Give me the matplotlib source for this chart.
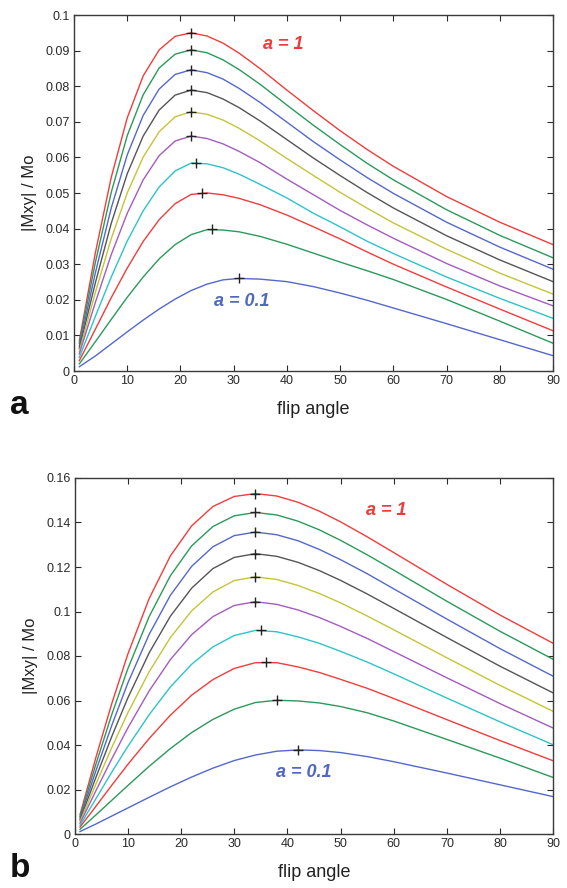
import matplotlib
matplotlib.use("Agg")
import matplotlib.pyplot as plt

plt.rcParams['font.family'] = ['Liberation Sans', 'DejaVu Sans']

# ---------------- data ----------------
a_angles = [1, 4, 7, 10, 13, 16, 19, 22, 25, 28, 31, 35, 40, 45, 50, 55, 60, 70, 80, 90]

# panel a, curves from a = 1 (top) to a = 0.1 (bottom)
a_red1 = [.0085, .0331, .0544, .0711, .0829, .0902, .0940, .0950, .0941, .0921, .0893, .0849, .0789, .0731, .0675, .0623, .0575, .0490, .0418, .0355]
a_green1 = [.0078, .0304, .0502, .0661, .0776, .0851, .0890, .0902, .0894, .0874, .0847, .0805, .0747, .0690, .0636, .0584, .0537, .0453, .0381, .0318]
a_blue1 = [.0070, .0275, .0458, .0607, .0718, .0792, .0833, .0846, .0838, .0820, .0794, .0754, .0699, .0644, .0593, .0544, .0499, .0418, .0348, .0286]
a_grey = [.0063, .0247, .0415, .0554, .0660, .0733, .0775, .0789, .0782, .0764, .0740, .0702, .0650, .0598, .0549, .0502, .0458, .0380, .0312, .0251]
a_yellow = [.0055, .0220, .0372, .0500, .0601, .0672, .0714, .0728, .0721, .0705, .0682, .0646, .0597, .0549, .0502, .0458, .0416, .0342, .0275, .0216]
a_purple = [.0048, .0192, .0327, .0443, .0537, .0605, .0646, .0660, .0653, .0638, .0617, .0585, .0539, .0495, .0451, .0411, .0373, .0302, .0239, .0183]
a_cyan = [.0038, .0153, .0264, .0365, .0450, .0517, .0562, .0584, .0582, .0571, .0553, .0524, .0486, .0443, .0405, .0365, .0330, .0264, .0204, .0148]
a_red2 = [.0029, .0117, .0206, .0289, .0364, .0425, .0470, .0496, .0500, .0495, .0485, .0467, .0438, .0405, .0371, .0335, .0300, .0236, .0174, .0113]
a_green2 = [.0020, .0082, .0145, .0207, .0264, .0315, .0355, .0383, .0397, .0396, .0391, .0378, .0356, .0331, .0306, .0282, .0257, .0201, .0140, .0078]
a_blue2 = [.0012, .0042, .0076, .0110, .0143, .0174, .0202, .0226, .0244, .0256, .0260, .0258, .0251, .0237, .0219, .0199, .0177, .0133, .0088, .0043]
a_curves = [a_red1, a_green1, a_blue1, a_grey, a_yellow, a_purple, a_cyan, a_red2, a_green2, a_blue2]

a_peak_angle = [22, 22, 22, 22, 22, 22, 23, 24, 26, 31]
a_peak_value = [0.0950, 0.0902, 0.0846, 0.0789, 0.0728, 0.0660, 0.0585, 0.0501, 0.0398, 0.0260]

b_angles = [1, 4, 7, 10, 14, 18, 22, 26, 30, 34, 38, 42, 46, 50, 55, 60, 70, 80, 90]

b_red1 = [.0087, .0345, .0588, .0809, .1058, .1250, .1385, .1472, .1517, .1530, .1519, .1491, .1451, .1403, .1336, .1265, .1122, .0984, .0857]
b_green1 = [.0079, .0315, .0539, .0743, .0977, .1161, .1295, .1382, .1430, .1445, .1434, .1406, .1367, .1320, .1255, .1186, .1046, .0911, .0785]
b_blue1 = [.0072, .0285, .0490, .0679, .0897, .1073, .1203, .1291, .1341, .1357, .1345, .1318, .1279, .1233, .1170, .1102, .0966, .0833, .0709]
b_grey = [.0064, .0255, .0440, .0612, .0814, .0979, .1105, .1193, .1243, .1260, .1248, .1221, .1184, .1140, .1079, .1014, .0883, .0754, .0634]
b_yellow = [.0056, .0225, .0390, .0545, .0729, .0883, .1003, .1088, .1139, .1156, .1144, .1117, .1081, .1039, .0980, .0918, .0792, .0668, .0551]
b_purple = [.0048, .0195, .0339, .0477, .0643, .0784, .0896, .0977, .1027, .1044, .1032, .1007, .0973, .0933, .0879, .0820, .0702, .0586, .0476]
b_cyan = [.0039, .0159, .0279, .0394, .0536, .0661, .0763, .0841, .0892, .0915, .0909, .0886, .0857, .0821, .0773, .0720, .0611, .0504, .0401]
b_red2 = [.0031, .0125, .0220, .0313, .0429, .0534, .0624, .0694, .0744, .0770, .0770, .0751, .0726, .0695, .0655, .0609, .0514, .0420, .0329]
b_green2 = [.0021, .0086, .0152, .0218, .0304, .0384, .0456, .0515, .0561, .0591, .0601, .0598, .0589, .0573, .0545, .0508, .0425, .0341, .0254]
b_blue2 = [.0011, .0045, .0081, .0117, .0165, .0212, .0256, .0296, .0330, .0355, .0372, .0378, .0375, .0366, .0348, .0325, .0274, .0221, .0168]
b_curves = [b_red1, b_green1, b_blue1, b_grey, b_yellow, b_purple, b_cyan, b_red2, b_green2, b_blue2]

b_peak_angle = [34, 34, 34, 34, 34, 34, 35, 36, 38, 42]
b_peak_value = [0.1530, 0.1445, 0.1357, 0.1260, 0.1156, 0.1044, 0.0916, 0.0773, 0.0601, 0.0378]

colors = ['#f23c3c', '#2a9a5a', '#5468cc', '#555555', '#c4c43a',
          '#a35cbf', '#2cc4c8', '#f23c3c', '#2a9a5a', '#5468cc']

a_yticks = [0, 0.01, 0.02, 0.03, 0.04, 0.05, 0.06, 0.07, 0.08, 0.09, 0.1]
a_ylabels = ['0', '0.01', '0.02', '0.03', '0.04', '0.05', '0.06', '0.07', '0.08', '0.09', '0.1']
b_yticks = [0, 0.02, 0.04, 0.06, 0.08, 0.1, 0.12, 0.14, 0.16]
b_ylabels = ['0', '0.02', '0.04', '0.06', '0.08', '0.1', '0.12', '0.14', '0.16']
xticks = [0, 10, 20, 30, 40, 50, 60, 70, 80, 90]

# ---------------- figure ----------------
W, H = 567, 888
fig = plt.figure(figsize=(W / 100, H / 100), dpi=100)

ax_a = fig.add_axes([74 / W, 1 - 371 / H, 479 / W, 356 / H])
ax_b = fig.add_axes([74.7 / W, 1 - 834 / H, 478.5 / W, 356 / H])

txt_col = '#2a2a2a'


def style(ax, yticks, ylabels, ymax):
    ax.set_xlim(0, 90)
    ax.set_ylim(0, ymax)
    ax.set_xticks(xticks)
    ax.set_xticklabels([str(t) for t in xticks])
    ax.set_yticks(yticks)
    ax.set_yticklabels(ylabels)
    ax.tick_params(direction='in', length=4, width=0.8, top=True, right=True,
                   labelsize=9, colors=txt_col, pad=3)
    for s in ax.spines.values():
        s.set_color('#3a3a3a')
        s.set_linewidth(1.0)
    ax.set_xlabel('flip angle', fontsize=13, color='#222222', labelpad=10)
    ax.set_ylabel('|Mxy| / Mo', fontsize=12, color='#222222', labelpad=6)


for vals, c in zip(a_curves, colors):
    ax_a.plot(a_angles, vals, color=c, lw=1.0, solid_joinstyle='round')
ax_a.plot(a_peak_angle, a_peak_value, '+', color='#222222', ms=6.5, mew=1.0, ls='none')
style(ax_a, a_yticks, a_ylabels, 0.1)
ax_a.text(39.4, 0.0916, 'a = 1', color='#f03a3a', fontsize=13, fontweight='bold',
          style='italic', ha='center', va='center')
ax_a.text(31.5, 0.0194, 'a = 0.1', color='#5068c0', fontsize=13, fontweight='bold',
          style='italic', ha='center', va='center')

for vals, c in zip(b_curves, colors):
    ax_b.plot(b_angles, vals, color=c, lw=1.0, solid_joinstyle='round')
ax_b.plot(b_peak_angle, b_peak_value, '+', color='#222222', ms=6.5, mew=1.0, ls='none')
style(ax_b, b_yticks, b_ylabels, 0.16)
ax_b.text(58.6, 0.1453, 'a = 1', color='#f03a3a', fontsize=13, fontweight='bold',
          style='italic', ha='center', va='center')
ax_b.text(43.0, 0.0275, 'a = 0.1', color='#5068c0', fontsize=13, fontweight='bold',
          style='italic', ha='center', va='center')

fig.text(10 / W, 1 - 405 / H, 'a', fontsize=24, fontweight='bold', color='#111111',
         ha='left', va='center')
fig.text(10 / W, 1 - 868 / H, 'b', fontsize=24, fontweight='bold', color='#111111',
         ha='left', va='center')

fig.savefig('out.png', dpi=100)
